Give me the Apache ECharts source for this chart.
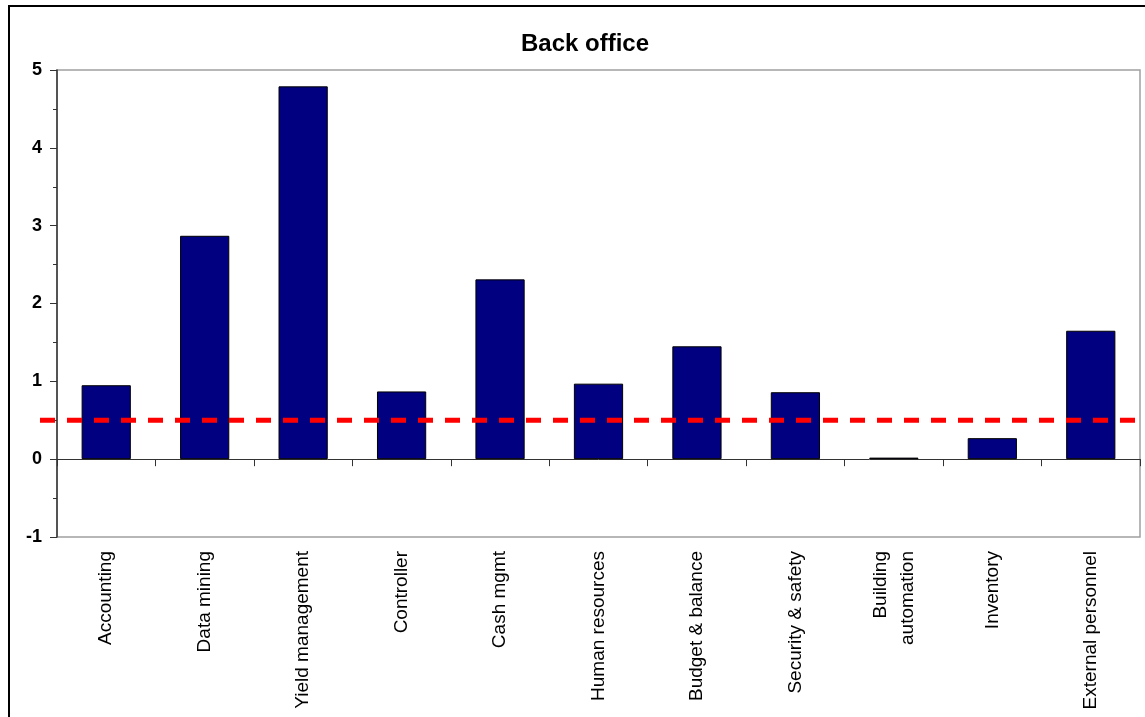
<!DOCTYPE html>
<html>
<head>
<meta charset="utf-8">
<script src="https://cdn.jsdelivr.net/npm/echarts@6/dist/echarts.min.js"></script>
<style>
html,body{margin:0;padding:0;background:#fff;}
#chart{width:1145px;height:717px;}
</style>
</head>
<body>
<div id="chart"></div>
<script>
const categories = ["Accounting", "Data mining", "Yield management", "Controller", "Cash mgmt", "Human resources", "Budget & balance", "Security & safety", "Building\nautomation", "Inventory", "External personnel"];
const values = [0.95, 2.87, 4.79, 0.87, 2.31, 0.97, 1.45, 0.86, 0.02, 0.27, 1.65];
const referenceValue = 0.5;
const yTicks = { min: -1, max: 5, interval: 1 };
const titleText = "Back office";

const chart = echarts.init(document.getElementById('chart'), null, { renderer: 'canvas' });
const font = '"Liberation Sans", Arial, sans-serif';

chart.setOption({
  animation: false,
  backgroundColor: '#fff',
  title: {
    text: titleText,
    left: 516, top: 27,
    textStyle: { fontFamily: font, fontWeight: 'bold', fontSize: 24, color: '#000' }
  },
  grid: {
    left: 57, right: 5, top: 70, bottom: 180,
    show: true, borderColor: '#a0a0a0', borderWidth: 1.5, backgroundColor: 'transparent'
  },
  xAxis: [
    {
      type: 'category', data: categories, position: 'bottom',
      axisLine: { show: true, onZero: true, lineStyle: { color: '#333', width: 1 } },
      axisTick: { show: true, length: 7, interval: 0, lineStyle: { color: '#333' } },
      axisLabel: { show: false },
      splitLine: { show: false }
    },
    {
      type: 'category', data: categories, position: 'bottom',
      axisLine: { show: false, onZero: false },
      axisTick: { show: false },
      axisLabel: {
        show: true, interval: 0, rotate: 90, margin: 14,
        fontFamily: font, fontSize: 19, color: '#000', lineHeight: 27
      },
      splitLine: { show: false }
    }
  ],
  yAxis: {
    type: 'value', min: yTicks.min, max: yTicks.max, interval: yTicks.interval,
    axisLine: { show: true, lineStyle: { color: '#333', width: 1.5 } },
    axisTick: { show: true, length: 7, lineStyle: { color: '#333' } },
    minorTick: { show: true, splitNumber: 2, length: 4, lineStyle: { color: '#333' } },
    splitLine: { show: false },
    axisLabel: { margin: 15, fontFamily: font, fontSize: 18, fontWeight: 'bold', color: '#000' }
  },
  series: [{
    type: 'bar', xAxisIndex: 0, data: values, barWidth: '50%',
    itemStyle: { color: '#000080', borderColor: '#000', borderWidth: 1 }
  }]
});

const yRef = chart.convertToPixel({ yAxisIndex: 0 }, referenceValue);
chart.setOption({
  graphic: [
    {
      type: 'rect', silent: true, z: 100,
      shape: { x: 9, y: 6, width: 1200, height: 800 },
      style: { fill: 'none', stroke: '#000', lineWidth: 2 }
    },
    {
      type: 'line', silent: true, z: 50,
      shape: { x1: 40, y1: yRef, x2: 1145, y2: yRef },
      style: { stroke: '#ff0000', lineWidth: 5, lineDash: [15, 12] }
    }
  ]
});
</script>
</body>
</html>
